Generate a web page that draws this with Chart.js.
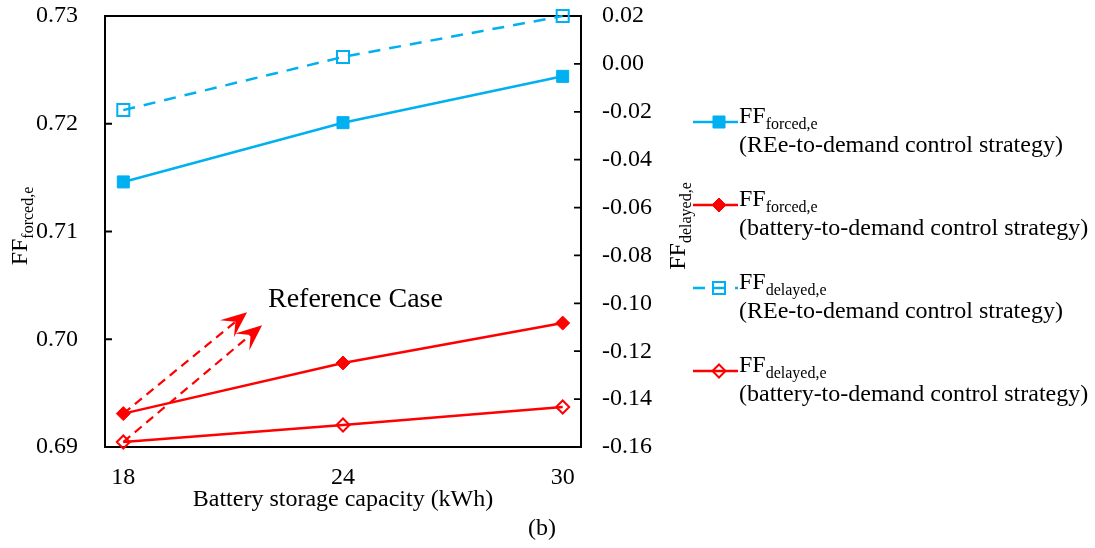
<!DOCTYPE html>
<html>
<head>
<meta charset="utf-8">
<script src="https://cdn.jsdelivr.net/npm/chart.js@4.4.1/dist/chart.umd.min.js"></script>
<style>
html,body{margin:0;padding:0;background:#fff;}
#wrap{width:1095px;height:548px;position:relative;}
</style>
</head>
<body>
<div id="wrap"><canvas id="c"></canvas></div>
<script>
// ---------- data ----------
const capacity = [18, 24, 30];                 // kWh
const xTickValues = [18, 24, 30];
const ffForcedREe = [0.7146, 0.7201, 0.7244];   // left axis
const ffForcedBattery = [0.6931, 0.6978, 0.7015];// left axis
const ffDelayedREe = [-0.0193, 0.0029, 0.0200];  // right axis
const ffDelayedBattery = [-0.1579, -0.1508, -0.1433]; // right axis
const seriesMain = ['FF', 'FF', 'FF', 'FF'];
const seriesSub = ['forced,e', 'forced,e', 'delayed,e', 'delayed,e'];
const seriesNote = ['(REe-to-demand control strategy)', '(battery-to-demand control strategy)',
                    '(REe-to-demand control strategy)', '(battery-to-demand control strategy)'];
// "Reference Case" arrows: from the 18 kWh battery-strategy points to these tips (left-axis data units)
const refArrowTips = [{x: 21.38, y: 0.7025}, {x: 21.79, y: 0.7013}];
const refLabel = 'Reference Case';

const BLUE = '#00B0F0', RED = '#FF0000';
const FONT = '"Liberation Serif", "Times New Roman", serif';

Chart.defaults.font.family = FONT;
Chart.defaults.font.size = 24;
Chart.defaults.color = '#000';

const pts = vals => capacity.map((x, i) => ({x, y: vals[i]}));

const datasets = [
  {data: pts(ffForcedREe), yAxisID: 'y', borderColor: BLUE, backgroundColor: BLUE, borderWidth: 2.5,
   pointStyle: 'rect', pointRadius: 8.5, pointBackgroundColor: BLUE, pointBorderColor: BLUE, pointBorderWidth: 1},
  {data: pts(ffForcedBattery), yAxisID: 'y', borderColor: RED, backgroundColor: RED, borderWidth: 2.5,
   pointStyle: 'rectRot', pointRadius: 7, pointBackgroundColor: RED, pointBorderColor: RED, pointBorderWidth: 1},
  {data: pts(ffDelayedREe), yAxisID: 'y2', borderColor: BLUE, backgroundColor: BLUE, borderWidth: 2.5, borderDash: [12, 9],
   pointStyle: 'rect', pointRadius: 8.5, pointBackgroundColor: 'rgba(255,255,255,0)', pointBorderColor: BLUE, pointBorderWidth: 2},
  {data: pts(ffDelayedBattery), yAxisID: 'y2', borderColor: RED, backgroundColor: RED, borderWidth: 2.5,
   pointStyle: 'rectRot', pointRadius: 6.5, pointBackgroundColor: 'rgba(255,255,255,0)', pointBorderColor: RED, pointBorderWidth: 2}
];
datasets.forEach((d, i) => { d.label = seriesMain[i] + ' ' + seriesSub[i] + ' ' + seriesNote[i]; d.clip = false; d.tension = 0; d.pointHoverRadius = d.pointRadius; });

function subText(ctx, x, y, main, sub, mainSize, subSize, drop) {
  ctx.font = mainSize + 'px ' + FONT;
  ctx.fillText(main, x, y);
  const w = ctx.measureText(main).width;
  ctx.font = subSize + 'px ' + FONT;
  ctx.fillText(sub, x + w, y + drop);
}
function subWidth(ctx, main, sub, mainSize, subSize) {
  ctx.font = mainSize + 'px ' + FONT;
  const a = ctx.measureText(main).width;
  ctx.font = subSize + 'px ' + FONT;
  return a + ctx.measureText(sub).width;
}
function rotatedTitle(ctx, cx, cy, main, sub) {
  ctx.save();
  ctx.translate(cx, cy);
  ctx.rotate(-Math.PI / 2);
  ctx.textBaseline = 'alphabetic';
  ctx.textAlign = 'left';
  const w = subWidth(ctx, main, sub, 24, 16);
  subText(ctx, -w / 2, 0, main, sub, 24, 16, 6);
  ctx.restore();
}
function arrow(ctx, x0, y0, x1, y1) {
  const dx = x1 - x0, dy = y1 - y0, len = Math.hypot(dx, dy);
  const ux = dx / len, uy = dy / len, nx = -uy, ny = ux;
  const L = 26, W = 11, N = 15;
  ctx.setLineDash([9, 6]);
  ctx.beginPath();
  ctx.moveTo(x0, y0);
  ctx.lineTo(x1 - ux * N, y1 - uy * N);
  ctx.stroke();
  ctx.setLineDash([]);
  ctx.beginPath();
  ctx.moveTo(x1, y1);
  ctx.lineTo(x1 - ux * L + nx * W, y1 - uy * L + ny * W);
  ctx.lineTo(x1 - ux * N, y1 - uy * N);
  ctx.lineTo(x1 - ux * L - nx * W, y1 - uy * L - ny * W);
  ctx.closePath();
  ctx.fill();
}
function noPad(s) { s.paddingTop = 0; s.paddingBottom = 0; s.paddingLeft = 0; s.paddingRight = 0; }

const extras = {
  id: 'extras',
  beforeDatasetsDraw(chart) {
    const {ctx, chartArea: a, scales} = chart;
    ctx.save();
    ctx.strokeStyle = '#000';
    ctx.lineWidth = 2;
    ctx.strokeRect(a.left, a.top, a.right - a.left, a.bottom - a.top);
    ctx.lineWidth = 1.8;
    ctx.beginPath();
    scales.y.ticks.forEach(t => {
      const py = scales.y.getPixelForValue(t.value);
      ctx.moveTo(a.left, py); ctx.lineTo(a.left + 7, py);
    });
    scales.y2.ticks.forEach(t => {
      const py = scales.y2.getPixelForValue(t.value);
      ctx.moveTo(a.right, py); ctx.lineTo(a.right - 7, py);
    });
    ctx.stroke();
    ctx.restore();
  },
  afterDatasetsDraw(chart) {
    const {ctx, scales} = chart;
    ctx.save();
    ctx.strokeStyle = RED; ctx.fillStyle = RED; ctx.lineWidth = 2.2;
    const starts = [chart.getDatasetMeta(1).data[0], chart.getDatasetMeta(3).data[0]];
    starts.forEach((p, i) => {
      const tip = refArrowTips[i];
      arrow(ctx, p.x, p.y, scales.x.getPixelForValue(tip.x), scales.y.getPixelForValue(tip.y));
    });
    ctx.restore();
  },
  afterDraw(chart) {
    const {ctx} = chart;
    ctx.save();
    ctx.fillStyle = '#000';
    // axis titles
    rotatedTitle(ctx, 27, 226, seriesMain[0], seriesSub[0]);
    rotatedTitle(ctx, 685, 226, seriesMain[2], seriesSub[2]);
    // reference label
    ctx.font = '28px ' + FONT;
    ctx.textAlign = 'left';
    ctx.textBaseline = 'alphabetic';
    ctx.fillText(refLabel, 268, 307);
    // (b)
    ctx.font = '24px ' + FONT;
    ctx.textAlign = 'center';
    ctx.fillText('(b)', 542, 535);
    // legend
    ctx.textAlign = 'left';
    datasets.forEach((d, i) => {
      const ly = 122 + i * 83;
      ctx.save();
      ctx.strokeStyle = d.borderColor;
      ctx.lineWidth = d.borderWidth;
      ctx.setLineDash(d.borderDash || []);
      ctx.beginPath();
      ctx.moveTo(693, ly); ctx.lineTo(738, ly);
      ctx.stroke();
      ctx.setLineDash([]);
      ctx.fillStyle = d.pointBackgroundColor;
      ctx.strokeStyle = d.pointBorderColor;
      ctx.lineWidth = d.pointBorderWidth;
      Chart.helpers.drawPoint(ctx, {pointStyle: d.pointStyle, radius: d.pointRadius, rotation: 0, borderWidth: d.pointBorderWidth}, 719, ly);
      ctx.restore();
      ctx.fillStyle = '#000';
      subText(ctx, 739, ly + 1, seriesMain[i], seriesSub[i], 24, 16, 6);
      ctx.font = '24px ' + FONT;
      ctx.fillText(seriesNote[i], 739, ly + 30);
    });
    ctx.restore();
  }
};

new Chart(document.getElementById('c'), {
  type: 'line',
  data: {datasets},
  options: {
    responsive: true,
    maintainAspectRatio: false,
    animation: false,
    events: [],
    layout: {padding: {top: 16, left: 0, right: 0, bottom: 0}},
    plugins: {legend: {display: false}, tooltip: {enabled: false}},
    scales: {
      x: {
        type: 'linear', position: 'bottom', min: 17.5, max: 30.5,
        grid: {display: false, drawTicks: false},
        border: {display: false},
        afterBuildTicks: s => { s.ticks = xTickValues.map(v => ({value: v})); },
        afterFit: s => { s.height = 101; noPad(s); },
        ticks: {padding: 16, maxRotation: 0, autoSkip: false, callback: v => String(v)},
        title: {display: true, text: 'Battery storage capacity (kWh)', font: {size: 24}, padding: {top: 0, bottom: 34}}
      },
      y: {
        type: 'linear', position: 'left', min: 0.69, max: 0.73,
        grid: {display: false, drawTicks: false},
        border: {display: false},
        afterFit: s => { s.width = 105; noPad(s); },
        ticks: {stepSize: 0.01, padding: 27, callback: v => v.toFixed(2)}
      },
      y2: {
        type: 'linear', position: 'right', min: -0.16, max: 0.02,
        grid: {display: false, drawTicks: false},
        border: {display: false},
        afterFit: s => { s.width = 514; noPad(s); },
        ticks: {stepSize: 0.02, padding: 21, callback: v => (Math.abs(v) < 1e-9 ? 0 : v).toFixed(2)}
      }
    }
  },
  plugins: [extras]
});
</script>
</body>
</html>
